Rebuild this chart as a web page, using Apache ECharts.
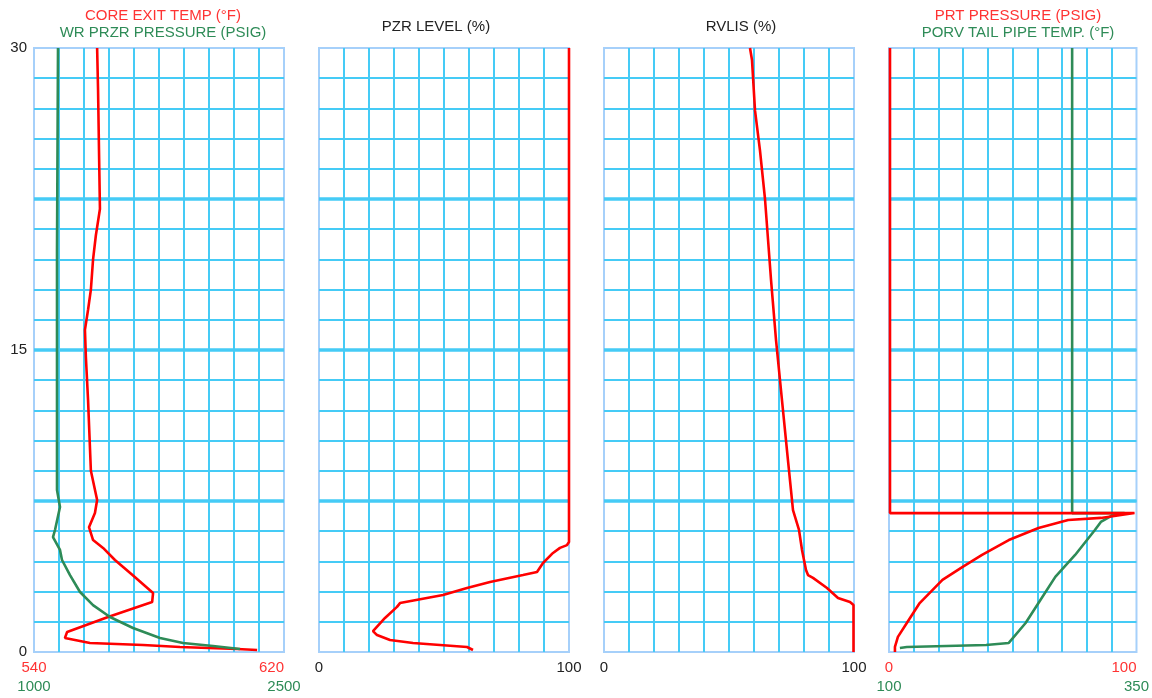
<!DOCTYPE html>
<html>
<head>
<meta charset="utf-8">
<script src="https://cdn.jsdelivr.net/npm/echarts@6/dist/echarts.min.js"></script>
<style>
html,body{margin:0;padding:0;background:#fff;}
#chart{width:1152px;height:698px;}
</style>
</head>
<body>
<div id="chart"></div>
<script>
// ---- Data (time in minutes on the vertical axis) ----
// Panel 1: Core exit temperature (°F)
const coreExitTime = [30, 27.9, 24.9, 22.0, 20.7, 19.5, 18.0, 17.0, 16.0, 14.65, 12.5, 9.0, 7.55, 6.9, 6.2, 5.56, 5.17, 4.57, 3.8, 2.93, 2.48, 1.74, 0.99, 0.70, 0.45, 0.35, 0.25, 0.15, 0.1];
const coreExitTemp = [560.2, 560.5, 560.8, 561.1, 559.8, 558.9, 558.2, 557.3, 556.3, 556.6, 557.3, 558.2, 560.2, 559.5, 557.6, 558.9, 562.1, 565.9, 571.7, 578.1, 577.8, 563.7, 550.6, 549.9, 557.9, 574.9, 586.7, 605.0, 611.4];
// Panel 1: WR PRZR pressure (psig)
const przrTime = [30, 20, 8.05, 7.2, 6.06, 5.71, 5.07, 4.57, 3.82, 2.98, 2.33, 1.74, 1.19, 0.70, 0.45, 0.30, 0.15];
const przrPress = [1144, 1138, 1138, 1156, 1126, 1114, 1156, 1168, 1216, 1276, 1354, 1456, 1594, 1756, 1894, 2074, 2236];
// Panel 2: PZR level (%)
const pzrTime = [30, 5.46, 5.31, 5.17, 4.92, 4.42, 3.97, 3.82, 3.48, 3.18, 2.83, 2.43, 2.24, 1.69, 1.04, 0.84, 0.60, 0.45, 0.35, 0.25, 0.1];
const pzrLevel = [100, 100, 99.2, 96.4, 93.6, 89.6, 87.2, 81.6, 68.4, 59.2, 49.6, 32.4, 31.2, 26.4, 21.6, 23.2, 28.4, 37.6, 48.4, 59.2, 61.6];
// Panel 3: RVLIS (%)
const rvlisTime = [30, 29.4, 26.9, 24.9, 22.5, 20.5, 18.5, 15.5, 12.5, 9.5, 7.05, 6.06, 5.07, 4.07, 3.82, 3.68, 3.18, 2.68, 2.48, 2.33, 0];
const rvlisLevel = [58.4, 59.2, 60.4, 62.4, 64.4, 65.6, 66.8, 68.8, 71.2, 73.6, 75.6, 78.0, 79.2, 80.8, 81.6, 83.6, 89.2, 93.6, 98.4, 99.8, 99.8];
// Panel 4: PRT pressure (psig)
const prtTime = [0, 0.25, 0.75, 1.44, 2.43, 3.58, 4.22, 4.82, 5.56, 6.16, 6.56, 6.66, 6.9, 6.9, 6.9, 30];
const prtPress = [2.4, 2.4, 3.6, 7.2, 12.4, 21.6, 29.6, 37.6, 48.4, 60.4, 72.4, 85.6, 99.2, 100, 0.4, 0.4];
// Panel 4: PORV tail pipe temperature (°F)
const porvTime = [0.2, 0.25, 0.35, 0.45, 1.44, 2.43, 3.73, 4.82, 6.06, 6.46, 6.8, 6.9, 6.9, 30];
const porvTemp = [111, 118, 198, 221, 238, 251, 268, 288, 308, 314, 326, 338, 285, 285];

// ---- Axis ranges / tick labels ----
const timeRange = [0, 30];
const timeLabels = [0, 15, 30];
const coreExitRange = [540, 620];
const przrRange = [1000, 2500];
const percentRange = [0, 100];
const prtRange = [0, 100];
const porvRange = [100, 350];

const titles = [
  ['CORE EXIT TEMP (°F)', 'WR PRZR PRESSURE (PSIG)'],
  ['PZR LEVEL (%)'],
  ['RVLIS (%)'],
  ['PRT PRESSURE (PSIG)', 'PORV TAIL PIPE TEMP. (°F)']
];

// ---- Styles ----
const RED = '#ff0000';
const RED_TXT = '#ff3333';
const GREEN = '#2e8b57';
const BLACK = '#222222';
const GRID_C = '#45cbf6';
const BORDER_C = '#a6d0fa';
const FONT = 'Liberation Sans, Arial, sans-serif';
const FS = 15;

const panelLeft = [34, 319, 604, 889];
const panelW = 250;
const titleCenter = [163, 436, 741, 1018];

function zip(xs, ys) { return xs.map((x, i) => [x, ys[i]]); }

const grid = [], xAxis = [], yAxis = [], series = [], title = [];

function labelAxis(gi, range, interval, color, offset, maxAlign) {
  return {
    gridIndex: gi, type: 'value', min: range[0], max: range[1], interval: interval,
    position: 'bottom', offset: offset,
    axisLine: {show: false}, axisTick: {show: false}, splitLine: {show: false},
    axisLabel: {
      show: true, interval: 0, color: color, fontSize: FS, fontFamily: FONT, margin: 8,
      formatter: v => (v === range[0] || v === range[1]) ? String(v) : '',
      alignMaxLabel: maxAlign
    }
  };
}

for (let i = 0; i < 4; i++) {
  grid.push({
    left: panelLeft[i], width: panelW, top: 48, bottom: 46,
    show: true, borderColor: BORDER_C, borderWidth: 2, backgroundColor: '#fff'
  });
  // grid-line axis (10 divisions)
  xAxis.push({
    gridIndex: i, type: 'value', min: 0, max: 100, interval: 10, position: 'bottom',
    axisLine: {show: false}, axisTick: {show: false}, axisLabel: {show: false},
    splitLine: {show: true, showMinLine: false, showMaxLine: false, lineStyle: {color: GRID_C, width: 2}}
  });
  yAxis.push({
    gridIndex: i, type: 'value', min: timeRange[0], max: timeRange[1], interval: 1.5,
    axisLine: {show: false}, axisTick: {show: false}, axisLabel: {show: false},
    splitLine: {show: true, showMinLine: false, showMaxLine: false, lineStyle: {color: GRID_C, width: 2}}
  });
  yAxis.push({
    gridIndex: i, type: 'value', min: timeRange[0], max: timeRange[1], interval: 7.5, position: 'left',
    axisLine: {show: false}, axisTick: {show: false},
    axisLabel: {
      show: i === 0, color: BLACK, fontSize: FS, fontFamily: FONT, margin: 7,
      formatter: v => timeLabels.indexOf(v) >= 0 ? String(v) : ''
    },
    splitLine: {show: true, showMinLine: false, showMaxLine: false, lineStyle: {color: GRID_C, width: 3.5}}
  });
  // titles
  titles[i].forEach((t, k) => {
    let color = BLACK;
    if (titles[i].length === 2) color = k === 0 ? RED_TXT : GREEN;
    title.push({
      text: t, left: titleCenter[i], top: titles[i].length === 2 ? (k === 0 ? 8 : 25) : 19,
      textAlign: 'center', padding: 0,
      textStyle: {color: color, fontSize: FS, fontWeight: 'normal', fontFamily: FONT}
    });
  });
}

// label axes
xAxis.push(labelAxis(0, coreExitRange, 20, RED_TXT, 0, 'right'));   // idx 4
xAxis.push(labelAxis(0, przrRange, 500, GREEN, 19, 'center'));      // idx 5
xAxis.push(labelAxis(1, percentRange, 50, BLACK, 0, 'center'));     // idx 6
xAxis.push(labelAxis(2, percentRange, 50, BLACK, 0, 'center'));     // idx 7
xAxis.push(labelAxis(3, prtRange, 50, RED_TXT, 0, 'right'));        // idx 8
xAxis.push(labelAxis(3, porvRange, 50, GREEN, 19, 'center'));       // idx 9

function line(name, xi, yi, data, color) {
  return {
    name: name, type: 'line', xAxisIndex: xi, yAxisIndex: yi, data: data,
    showSymbol: false, symbol: 'none', smooth: false,
    lineStyle: {color: color, width: 2.6}, z: 5
  };
}

series.push(line('Core Exit Temp', 4, 0, zip(coreExitTemp, coreExitTime), RED));
series.push(line('WR PRZR Pressure', 5, 0, zip(przrPress, przrTime), GREEN));
series.push(line('PZR Level', 6, 2, zip(pzrLevel, pzrTime), RED));
series.push(line('RVLIS', 7, 4, zip(rvlisLevel, rvlisTime), RED));
series.push(line('PORV Tail Pipe Temp', 9, 6, zip(porvTemp, porvTime), GREEN));
series.push(line('PRT Pressure', 8, 6, zip(prtPress, prtTime), RED));

const chart = echarts.init(document.getElementById('chart'), null, {renderer: 'canvas'});
chart.setOption({
  animation: false,
  backgroundColor: '#ffffff',
  title: title,
  grid: grid,
  xAxis: xAxis,
  yAxis: yAxis,
  series: series
});
</script>
</body>
</html>
